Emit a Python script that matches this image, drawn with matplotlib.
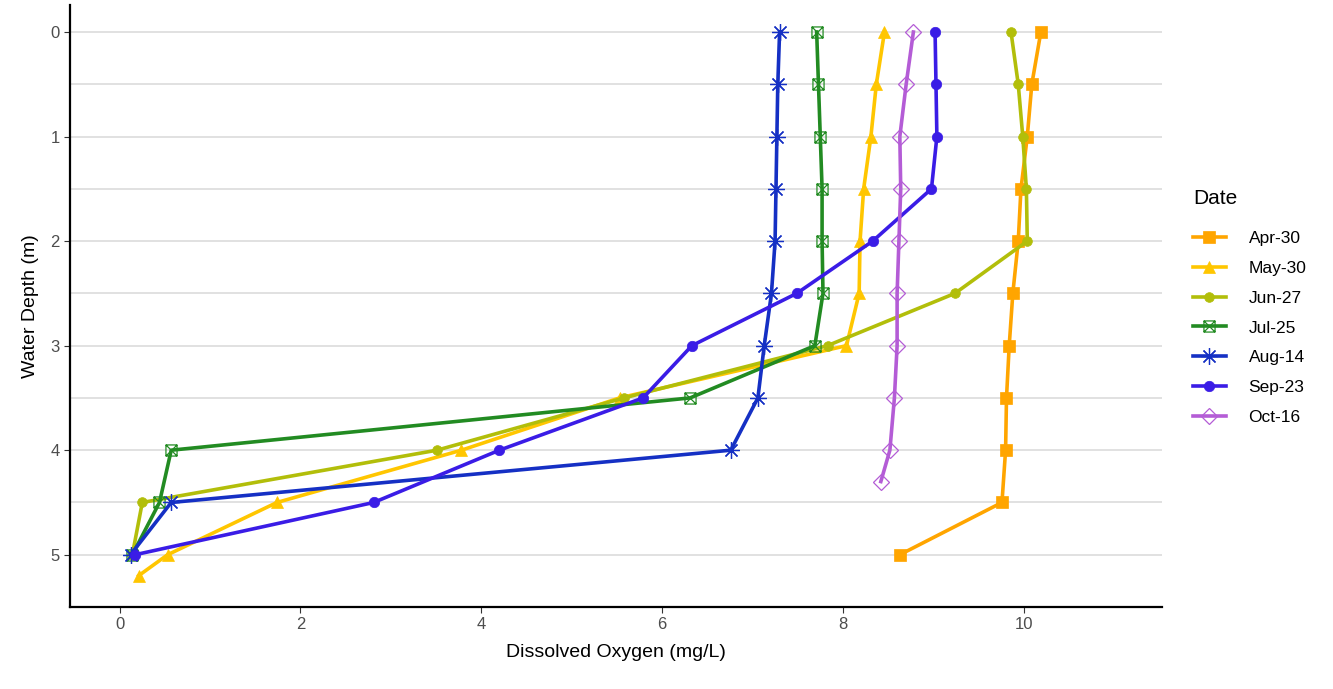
import numpy as np
import matplotlib.pyplot as plt
from matplotlib.path import Path

plt.rcParams['font.family'] = ['Liberation Sans', 'DejaVu Sans']

depth = [0, 0.5, 1, 1.5, 2, 2.5, 3, 3.5, 4, 4.5, 5]

apr30 = [10.19, 10.09, 10.04, 9.97, 9.94, 9.88, 9.84, 9.81, 9.80, 9.76, 8.63]
may30 = [8.46, 8.37, 8.31, 8.23, 8.19, 8.18, 8.04, 5.53, 3.78, 1.74, 0.53, 0.21]
may30_depth = [0, 0.5, 1, 1.5, 2, 2.5, 3, 3.5, 4, 4.5, 5, 5.2]
jun27 = [9.86, 9.94, 9.99, 10.03, 10.04, 9.24, 7.83, 5.58, 3.51, 0.25, 0.14]
jul25 = [7.71, 7.73, 7.75, 7.77, 7.77, 7.78, 7.69, 6.31, 0.57, 0.44, 0.14]
aug14 = [7.30, 7.28, 7.27, 7.26, 7.25, 7.21, 7.13, 7.06, 6.76, 0.57, 0.12]
sep23 = [9.02, 9.03, 9.04, 8.98, 8.33, 7.49, 6.33, 5.79, 4.20, 2.81, 0.17]
oct16 = [8.78, 8.70, 8.63, 8.64, 8.62, 8.60, 8.60, 8.57, 8.52, 8.42]
oct16_depth = [0, 0.5, 1, 1.5, 2, 2.5, 3, 3.5, 4, 4.3]

dates = ['Apr-30', 'May-30', 'Jun-27', 'Jul-25', 'Aug-14', 'Sep-23', 'Oct-16']

# square with an X inside (like ggplot shape 7)
box_x = Path([(-1, -1), (1, -1), (1, 1), (-1, 1), (-1, -1),
              (-1, -1), (1, 1), (-1, 1), (1, -1)],
             [Path.MOVETO, Path.LINETO, Path.LINETO, Path.LINETO, Path.CLOSEPOLY,
              Path.MOVETO, Path.LINETO, Path.MOVETO, Path.LINETO])

series = [
    (apr30, depth, '#FFA500', 's', 8, True),
    (may30, may30_depth, '#FFC600', '^', 8, True),
    (jun27, depth, '#B2BE0A', 'o', 7, True),
    (jul25, depth, '#228B22', box_x, 8, False),
    (aug14, depth, '#1530C4', (8, 2, 0), 12, False),
    (sep23, depth, '#3A1CE6', 'o', 7.5, True),
    (oct16, oct16_depth, '#B45CD6', 'D', 8, False),
]

fig = plt.figure(figsize=(13.33, 6.89), dpi=100)
ax = fig.add_axes([0.0525, 0.119, 0.8192, 0.874])

for y in np.arange(0, 5.01, 0.5):
    ax.axhline(y, color='#D9D9D9', lw=1.1, zorder=0)

for (xs, ds, col, mk, ms, filled), name in zip(series, dates):
    ax.plot(xs, ds, color=col, lw=2.6, marker=mk, markersize=ms,
            markerfacecolor=col if filled else 'none',
            markeredgecolor=col, markeredgewidth=0.9 if not filled else 0.5,
            label=name, zorder=3)

ax.set_xlim(-0.55, 11.53)
ax.set_ylim(5.5, -0.26)
ax.set_xticks([0, 2, 4, 6, 8, 10])
ax.set_yticks([0, 1, 2, 3, 4, 5])
ax.tick_params(labelsize=12, colors='#333333', length=4, width=0.8)
for lab in ax.get_xticklabels() + ax.get_yticklabels():
    lab.set_color('#4D4D4D')
ax.spines['top'].set_visible(False)
ax.spines['right'].set_visible(False)
ax.spines['left'].set_linewidth(1.6)
ax.spines['bottom'].set_linewidth(1.6)
ax.set_xlabel('Dissolved Oxygen (mg/L)', fontsize=14, labelpad=8)
ax.set_ylabel('Water Depth (m)', fontsize=14, labelpad=8)

leg = ax.legend(title='Date', loc='upper left', bbox_to_anchor=(1.022, 0.705),
                frameon=False, fontsize=12.5, title_fontsize=15,
                handlelength=1.9, labelspacing=0.85, borderaxespad=0,
                handletextpad=1.3)
leg._legend_box.align = 'left'
leg._legend_box.sep = 16

fig.savefig('out.png', dpi=100)
